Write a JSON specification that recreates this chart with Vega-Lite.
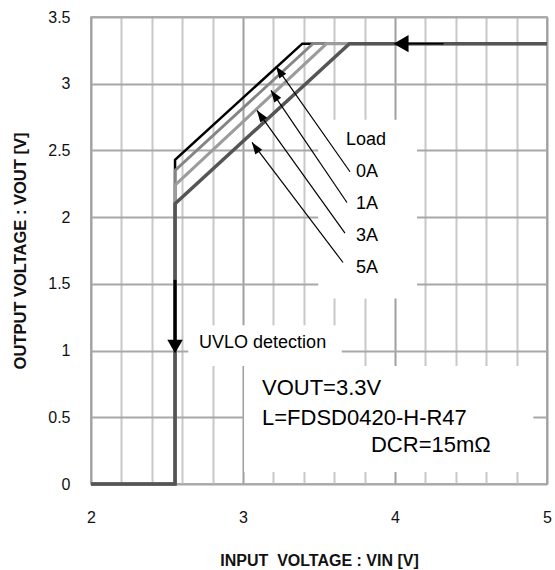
{
  "$schema": "https://vega.github.io/schema/vega-lite/v6.json",
  "width": 456,
  "height": 467,
  "autosize": {"type": "none"},
  "padding": {"left": 91, "top": 17, "right": 8, "bottom": 86},
  "background": "white",
  "config": {
    "view": {"stroke": "#9a9a9a", "strokeWidth": 1.5},
    "text": {"font": "Liberation Sans", "color": "#000"}
  },
  "datasets": {
    "curves": [
      {"load": "0A", "i": 0, "x": 2.0, "y": 0},
      {"load": "0A", "i": 1, "x": 2.553, "y": 0},
      {"load": "0A", "i": 2, "x": 2.553, "y": 2.43},
      {"load": "0A", "i": 3, "x": 3.39, "y": 3.3},
      {"load": "0A", "i": 4, "x": 5.0, "y": 3.3},
      {"load": "1A", "i": 0, "x": 2.0, "y": 0},
      {"load": "1A", "i": 1, "x": 2.553, "y": 0},
      {"load": "1A", "i": 2, "x": 2.553, "y": 2.35},
      {"load": "1A", "i": 3, "x": 3.46, "y": 3.3},
      {"load": "1A", "i": 4, "x": 5.0, "y": 3.3},
      {"load": "3A", "i": 0, "x": 2.0, "y": 0},
      {"load": "3A", "i": 1, "x": 2.553, "y": 0},
      {"load": "3A", "i": 2, "x": 2.553, "y": 2.24},
      {"load": "3A", "i": 3, "x": 3.55, "y": 3.3},
      {"load": "3A", "i": 4, "x": 5.0, "y": 3.3},
      {"load": "5A", "i": 0, "x": 2.0, "y": 0},
      {"load": "5A", "i": 1, "x": 2.553, "y": 0},
      {"load": "5A", "i": 2, "x": 2.553, "y": 2.10},
      {"load": "5A", "i": 3, "x": 3.70, "y": 3.3},
      {"load": "5A", "i": 4, "x": 5.0, "y": 3.3}
    ],
    "boxes": [
      {"x": 3.495, "x2": 4.145, "y": 1.39, "y2": 2.73},
      {"x": 2.64, "x2": 3.65, "y": 0.885, "y2": 1.19},
      {"x": 3.007, "x2": 4.91, "y": 0.09, "y2": 0.885}
    ],
    "pointers": [
      {"x": 3.704, "y": 2.34, "x2": 3.217, "y2": 3.13},
      {"x": 3.684, "y": 2.11, "x2": 3.184, "y2": 2.95},
      {"x": 3.671, "y": 1.88, "x2": 3.092, "y2": 2.80},
      {"x": 3.658, "y": 1.66, "x2": 3.059, "y2": 2.56}
    ],
    "heads": [
      {"x": 3.239, "y": 3.094},
      {"x": 3.206, "y": 2.914},
      {"x": 3.114, "y": 2.764},
      {"x": 3.081, "y": 2.524}
    ],
    "loadText": [
      {"x": 3.678, "y": 2.58, "label": "Load"},
      {"x": 3.743, "y": 2.34, "label": "0A"},
      {"x": 3.743, "y": 2.10, "label": "1A"},
      {"x": 3.743, "y": 1.86, "label": "3A"},
      {"x": 3.743, "y": 1.62, "label": "5A"}
    ],
    "uvloText": [
      {"x": 2.711, "y": 1.057, "label": "UVLO detection"}
    ],
    "condText": [
      {"x": 3.125, "y": 0.72, "label": "VOUT=3.3V"},
      {"x": 3.125, "y": 0.495, "label": "L=FDSD0420-H-R47"},
      {"x": 3.842, "y": 0.29, "label": "DCR=15mΩ"}
    ]
  },
  "encoding": {
    "x": {
      "field": "x", "type": "quantitative",
      "scale": {"domain": [2, 5], "nice": false, "zero": false},
      "axis": {
        "values": [2, 2.2, 2.4, 2.6, 2.8, 3, 3.2, 3.4, 3.6, 3.8, 4, 4.2, 4.4, 4.6, 4.8, 5],
        "grid": true,
        "gridColor": {"condition": {"test": "abs(datum.value - round(datum.value)) < 0.001", "value": "#a0a0a0"}, "value": "#c8c8c8"},
        "gridWidth": 2,
        "ticks": false,
        "domain": false,
        "labelExpr": "abs(datum.value - round(datum.value)) < 0.001 ? format(datum.value, 'd') : ''",
        "labelFont": "Liberation Sans",
        "labelFontSize": 16,
        "labelColor": "#111",
        "labelPadding": 25,
        "labelFlush": false,
        "labelOverlap": false,
        "title": "INPUT\u00a0 VOLTAGE : VIN [V]",
        "titleFont": "Liberation Sans",
        "titleFontSize": 16,
        "titleFontWeight": "bold",
        "titleColor": "#111",
        "titleY": 76,
        "titleBaseline": "middle"
      }
    },
    "y": {
      "field": "y", "type": "quantitative",
      "scale": {"domain": [0, 3.5], "nice": false, "zero": false},
      "axis": {
        "values": [0, 0.5, 1, 1.5, 2, 2.5, 3, 3.5],
        "grid": true,
        "gridColor": "#a8a8a8",
        "gridWidth": 2,
        "ticks": false,
        "domain": false,
        "format": "~g",
        "labelFont": "Liberation Sans",
        "labelFontSize": 16,
        "labelColor": "#111",
        "labelPadding": 21,
        "title": "OUTPUT VOLTAGE : VOUT [V]",
        "titleFont": "Liberation Sans",
        "titleFontSize": 16.5,
        "titleFontWeight": "bold",
        "titleColor": "#111",
        "titleX": -71,
        "titleBaseline": "middle"
      }
    }
  },
  "layer": [
    {
      "data": {"name": "boxes"},
      "mark": {"type": "rect", "fill": "white", "stroke": null},
      "encoding": {"x2": {"field": "x2"}, "y2": {"field": "y2"}}
    },
    {
      "data": {"name": "curves"},
      "mark": {"type": "line", "strokeJoin": "miter", "strokeCap": "butt"},
      "encoding": {
        "order": {"field": "i", "type": "quantitative"},
        "color": {"field": "load", "type": "nominal", "scale": {"domain": ["0A", "1A", "3A", "5A"], "range": ["#000000", "#858585", "#9c9c9c", "#555555"]}, "legend": null},
        "strokeWidth": {"field": "load", "type": "ordinal", "scale": {"domain": ["0A", "1A", "3A", "5A"], "range": [2.5, 3.5, 3.5, 4.5]}, "legend": null}
      }
    },
    {
      "data": {"name": "pointers"},
      "mark": {"type": "rule", "color": "#000", "strokeWidth": 1.2},
      "encoding": {"x2": {"field": "x2"}, "y2": {"field": "y2"}}
    },
    {
      "data": {"name": "heads"},
      "mark": {"type": "point", "shape": "M0,-1L0.7,1L-0.7,1Z", "filled": true, "color": "#000", "opacity": 1, "size": 144, "angle": 325, "strokeWidth": 0},
      "encoding": {}
    },
    {
      "data": {"values": [{"x": 4.32, "y": 3.3, "x2": 4.05, "y2": 3.3}]},
      "mark": {"type": "rule", "color": "#000", "strokeWidth": 1.5},
      "encoding": {"x2": {"field": "x2"}, "y2": {"field": "y2"}}
    },
    {
      "data": {"values": [{"x": 4.04, "y": 3.3}]},
      "mark": {"type": "point", "shape": "triangle-left", "filled": true, "color": "#000", "opacity": 1, "size": 300, "strokeWidth": 0},
      "encoding": {}
    },
    {
      "data": {"values": [{"x": 2.553, "y": 1.53, "x2": 2.553, "y2": 1.06}]},
      "mark": {"type": "rule", "color": "#000", "strokeWidth": 3},
      "encoding": {"x2": {"field": "x2"}, "y2": {"field": "y2"}}
    },
    {
      "data": {"values": [{"x": 2.553, "y": 1.03}]},
      "mark": {"type": "point", "shape": "triangle-down", "filled": true, "color": "#000", "opacity": 1, "size": 240, "strokeWidth": 0},
      "encoding": {}
    },
    {
      "data": {"name": "loadText"},
      "mark": {"type": "text", "align": "left", "baseline": "middle", "fontSize": 18, "font": "Liberation Sans"},
      "encoding": {"text": {"field": "label"}}
    },
    {
      "data": {"name": "uvloText"},
      "mark": {"type": "text", "align": "left", "baseline": "middle", "fontSize": 18, "font": "Liberation Sans"},
      "encoding": {"text": {"field": "label"}}
    },
    {
      "data": {"name": "condText"},
      "mark": {"type": "text", "align": "left", "baseline": "middle", "fontSize": 22, "font": "Liberation Sans"},
      "encoding": {"text": {"field": "label"}}
    }
  ]
}
